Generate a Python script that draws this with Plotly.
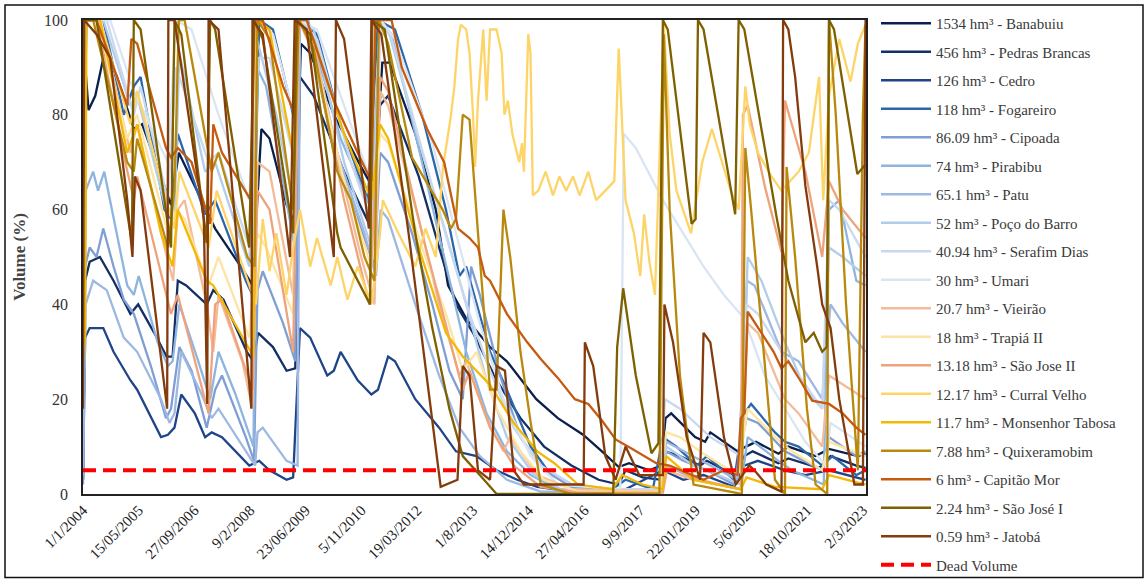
import plotly.graph_objects as go

# ---------------- axis ticks ----------------
TICK_DATES = ["2004-01-01", "2005-05-15", "2006-09-27", "2008-02-09", "2009-06-23",
              "2010-11-05", "2012-03-19", "2013-08-01", "2014-12-14", "2016-04-27",
              "2017-09-09", "2019-01-22", "2020-06-05", "2021-10-18", "2023-03-02"]
TICK_TEXT = ["1/1/2004", "15/05/2005", "27/09/2006", "9/2/2008", "23/06/2009",
             "5/11/2010", "19/03/2012", "1/8/2013", "14/12/2014", "27/04/2016",
             "9/9/2017", "22/01/2019", "5/6/2020", "18/10/2021", "2/3/2023"]
Y_TICKS = [0, 20, 40, 60, 80, 100]

# ---------------- reservoir volumes (%) ----------------
BANABUIU = [("2004-01-05", 80), ("2004-01-25", 89), ("2004-02-20", 81), ("2004-04-20", 84),
            ("2004-07-20", 94), ("2004-11-01", 88), ("2005-04-01", 77), ("2005-06-15", 78),
            ("2005-12-01", 67), ("2006-03-01", 61), ("2006-05-10", 72), ("2006-12-01", 62),
            ("2007-04-01", 56), ("2007-12-15", 47), ("2008-03-01", 44), ("2008-05-20", 77),
            ("2008-08-01", 75), ("2009-01-01", 61), ("2009-03-20", 57), ("2009-05-10", 95),
            ("2009-08-01", 93), ("2010-03-01", 80), ("2010-11-01", 69), ("2011-03-01", 64),
            ("2011-05-10", 91), ("2011-07-15", 91), ("2012-03-01", 76), ("2012-09-01", 60),
            ("2012-12-20", 44), ("2013-06-01", 37), ("2014-01-01", 31), ("2014-06-01", 28),
            ("2015-02-20", 20), ("2015-09-01", 16), ("2016-04-15", 12.5), ("2016-10-01", 9),
            ("2017-03-01", 5.7), ("2017-06-01", 6.5), ("2017-12-01", 5), ("2018-03-15", 6),
            ("2018-04-25", 16), ("2018-06-15", 17), ("2019-01-15", 12), ("2019-04-15", 11),
            ("2019-06-01", 13), ("2020-02-01", 9), ("2020-04-15", 10), ("2020-07-15", 11),
            ("2021-02-01", 8.5), ("2021-05-01", 10), ("2022-01-01", 8), ("2022-05-01", 9.5),
            ("2023-01-15", 8), ("2023-03-25", 8.5)]

PEDRAS_BRANCAS = [("2004-01-01", 3), ("2004-01-20", 45), ("2004-03-01", 49), ("2004-06-01", 50),
                  ("2004-10-01", 45), ("2005-03-01", 38), ("2005-05-10", 40), ("2005-10-01", 34),
                  ("2006-01-20", 29), ("2006-03-15", 29), ("2006-05-01", 45), ("2006-07-15", 44),
                  ("2007-01-15", 40), ("2007-03-15", 43), ("2007-06-15", 41), ("2008-01-10", 30),
                  ("2008-03-10", 28), ("2008-04-20", 34), ("2008-09-01", 31), ("2009-01-01", 26),
                  ("2009-03-20", 26.5), ("2009-05-01", 88), ("2009-09-01", 84), ("2010-06-01", 68),
                  ("2011-02-01", 56), ("2011-04-20", 82), ("2011-07-01", 84), ("2012-04-01", 67),
                  ("2012-10-01", 52), ("2013-03-01", 40), ("2013-08-01", 34), ("2014-03-01", 24),
                  ("2014-10-01", 16), ("2015-05-01", 10), ("2016-01-01", 6), ("2016-09-01", 3),
                  ("2017-03-01", 2), ("2017-05-01", 5), ("2017-10-01", 3.5), ("2018-03-15", 3),
                  ("2018-04-20", 9), ("2018-09-01", 8), ("2019-03-01", 6), ("2019-05-01", 7),
                  ("2020-01-01", 4), ("2020-04-01", 8), ("2020-06-15", 9), ("2021-02-01", 6.5),
                  ("2021-05-01", 7.5), ("2022-02-01", 5.5), ("2022-05-15", 8), ("2023-01-01", 6),
                  ("2023-03-25", 5.5)]

CEDRO = [("2004-01-01", 3), ("2004-01-20", 33), ("2004-03-01", 35), ("2004-07-01", 35),
         ("2004-10-01", 30), ("2005-03-01", 24), ("2005-05-01", 22), ("2005-10-01", 15),
         ("2005-12-01", 12), ("2006-02-01", 12.5), ("2006-04-01", 14), ("2006-06-01", 21),
         ("2006-10-01", 17), ("2007-01-01", 12), ("2007-03-01", 13), ("2007-06-01", 12),
         ("2008-02-01", 6), ("2008-05-01", 7), ("2008-08-01", 5), ("2009-01-01", 3),
         ("2009-03-01", 3.5), ("2009-05-01", 35), ("2009-08-01", 33), ("2010-01-01", 25),
         ("2010-03-01", 26), ("2010-05-01", 30), ("2010-10-01", 24), ("2011-02-01", 21),
         ("2011-04-01", 22), ("2011-07-01", 29), ("2011-09-01", 28), ("2012-03-01", 20),
         ("2012-10-01", 14), ("2013-03-01", 9), ("2013-09-01", 8), ("2014-03-01", 5),
         ("2014-09-01", 3), ("2015-03-01", 1.5), ("2016-01-01", 0.5), ("2017-01-01", 0.3),
         ("2017-05-01", 1), ("2018-04-01", 5), ("2018-10-01", 3), ("2019-04-01", 4),
         ("2020-01-01", 1.5), ("2020-04-01", 6), ("2020-08-01", 7), ("2021-04-01", 5),
         ("2021-10-01", 4), ("2022-05-01", 5), ("2023-03-25", 3)]

FOGAREIRO = [("2004-01-01", 60), ("2004-02-01", 100), ("2004-07-01", 100), ("2005-01-01", 80),
             ("2005-04-01", 86), ("2005-06-01", 88), ("2006-01-01", 60), ("2006-03-01", 58),
             ("2006-05-01", 76), ("2007-01-01", 59), ("2007-04-01", 62), ("2008-01-01", 45),
             ("2008-03-01", 42), ("2008-05-01", 100), ("2008-09-01", 98), ("2009-03-01", 80),
             ("2009-05-01", 100), ("2009-10-01", 97), ("2010-05-01", 78), ("2011-01-01", 62),
             ("2011-04-01", 100), ("2011-09-01", 98), ("2012-05-01", 80), ("2012-12-01", 60),
             ("2013-04-01", 46), ("2013-06-01", 48), ("2014-01-01", 30), ("2014-06-01", 22),
             ("2015-01-01", 10), ("2015-06-01", 5), ("2016-01-01", 2), ("2017-01-01", 1),
             ("2017-05-01", 3), ("2018-01-01", 1), ("2018-04-01", 12), ("2018-08-01", 10),
             ("2019-02-01", 6), ("2019-05-01", 8), ("2020-01-01", 3), ("2020-04-01", 17),
             ("2020-06-01", 19), ("2021-01-01", 13), ("2021-04-01", 11), ("2021-08-01", 10),
             ("2022-03-01", 6), ("2022-06-01", 8), ("2023-01-01", 4), ("2023-03-25", 5)]

CIPOADA = [("2004-01-01", 2), ("2004-01-20", 48), ("2004-03-01", 52), ("2004-05-01", 50),
           ("2004-07-01", 56), ("2004-10-01", 48), ("2005-01-01", 41), ("2005-04-01", 38),
           ("2005-09-01", 27), ("2006-01-15", 16), ("2006-03-01", 18), ("2006-05-15", 31),
           ("2006-09-01", 26), ("2007-01-15", 14), ("2007-04-01", 22), ("2007-06-01", 25),
           ("2008-01-01", 12), ("2008-03-15", 7), ("2008-04-15", 43), ("2008-06-01", 47),
           ("2008-12-01", 36), ("2009-03-20", 28), ("2009-05-01", 100), ("2009-07-01", 100),
           ("2010-03-01", 72), ("2010-10-01", 58), ("2011-03-01", 48), ("2011-04-20", 72),
           ("2011-07-01", 70), ("2012-02-01", 55), ("2012-08-01", 40), ("2013-01-01", 26),
           ("2013-05-01", 20), ("2013-07-15", 48), ("2013-10-01", 42), ("2014-04-01", 25),
           ("2014-10-01", 12), ("2015-05-01", 5), ("2016-01-01", 1.5), ("2017-01-01", 0.5),
           ("2018-03-01", 0.5), ("2018-05-01", 9), ("2018-10-01", 7), ("2019-05-01", 5),
           ("2020-01-01", 2), ("2020-04-20", 16), ("2020-08-01", 15), ("2021-04-01", 9),
           ("2022-03-01", 5), ("2022-05-01", 12), ("2023-01-01", 8), ("2023-03-25", 9)]

PIRABIBU = [("2004-01-01", 5), ("2004-01-25", 64), ("2004-04-01", 68), ("2004-05-15", 64),
            ("2004-07-10", 68), ("2004-11-01", 55), ("2005-02-01", 44), ("2005-04-01", 42),
            ("2005-05-15", 46), ("2005-11-01", 32), ("2006-02-01", 27), ("2006-03-15", 28),
            ("2006-05-15", 40), ("2006-11-01", 28), ("2007-02-15", 20), ("2007-05-01", 30),
            ("2007-10-01", 21), ("2008-03-10", 10), ("2008-04-10", 90), ("2008-07-01", 86),
            ("2009-03-15", 52), ("2009-04-25", 100), ("2009-08-01", 98), ("2010-05-01", 75),
            ("2011-02-01", 60), ("2011-04-20", 100), ("2011-08-01", 97), ("2012-05-01", 70),
            ("2012-12-01", 48), ("2013-06-01", 30), ("2013-12-01", 17), ("2014-06-01", 9),
            ("2015-01-01", 4), ("2015-09-01", 1), ("2017-01-01", 0.5), ("2018-03-01", 0.5),
            ("2018-05-01", 6), ("2019-02-01", 3), ("2020-03-01", 1), ("2020-05-01", 12),
            ("2021-02-01", 7), ("2021-06-01", 5), ("2022-03-15", 2), ("2022-05-01", 60),
            ("2022-08-01", 62), ("2023-01-01", 45), ("2023-03-25", 44)]

PATU = [("2004-01-01", 4), ("2004-01-25", 40), ("2004-04-01", 45), ("2004-08-01", 43),
        ("2005-01-01", 33), ("2005-05-01", 30), ("2005-12-01", 20), ("2006-02-15", 15),
        ("2006-04-01", 17), ("2006-06-01", 30), ("2006-12-01", 21), ("2007-03-01", 16),
        ("2007-05-01", 18), ("2008-01-01", 9), ("2008-03-25", 6), ("2008-04-15", 13),
        ("2008-06-01", 14), ("2009-01-01", 7), ("2009-04-10", 6), ("2009-05-01", 100),
        ("2009-07-15", 100), ("2010-04-01", 72), ("2010-12-01", 55), ("2011-03-15", 46),
        ("2011-04-25", 60), ("2011-07-01", 58), ("2012-03-01", 40), ("2012-10-01", 25),
        ("2013-04-01", 14), ("2013-10-01", 8), ("2014-06-01", 3), ("2015-04-01", 0.5),
        ("2018-03-15", 0.5), ("2018-05-01", 11), ("2018-10-01", 9), ("2019-06-01", 6),
        ("2020-02-01", 3), ("2020-04-25", 45), ("2020-07-01", 44), ("2021-03-01", 30),
        ("2021-08-01", 28), ("2022-03-01", 20), ("2022-05-15", 40), ("2022-09-01", 36),
        ("2023-03-25", 30)]

POCO_DO_BARRO = [("2004-01-01", 100), ("2004-07-01", 100), ("2005-03-01", 82), ("2005-05-01", 84),
                 ("2006-01-15", 60), ("2006-04-01", 58), ("2006-05-15", 93), ("2007-01-01", 68),
                 ("2007-04-01", 70), ("2008-02-01", 48), ("2008-04-10", 96), ("2008-10-01", 80),
                 ("2009-03-15", 60), ("2009-04-20", 100), ("2009-09-01", 98), ("2010-06-01", 70),
                 ("2011-02-01", 52), ("2011-04-20", 100), ("2011-07-01", 98), ("2012-05-01", 72),
                 ("2012-12-01", 55), ("2013-06-01", 40), ("2013-12-01", 24), ("2014-06-01", 12),
                 ("2015-02-01", 4), ("2015-10-01", 1), ("2017-02-01", 0.5), ("2018-03-20", 0.5),
                 ("2018-05-01", 10), ("2019-01-01", 6), ("2019-05-01", 5), ("2020-03-01", 2),
                 ("2020-05-01", 50), ("2020-09-01", 45), ("2021-04-01", 32), ("2021-10-01", 22),
                 ("2022-03-01", 18), ("2022-05-01", 52), ("2022-09-01", 50), ("2023-03-25", 46)]

SERAFIM_DIAS = [("2004-01-01", 100), ("2004-08-01", 100), ("2005-04-01", 80), ("2005-06-01", 86),
                ("2006-02-01", 62), ("2006-04-15", 90), ("2007-02-01", 70), ("2007-05-01", 72),
                ("2008-03-01", 50), ("2008-04-20", 92), ("2008-08-01", 92), ("2009-03-15", 70),
                ("2009-04-25", 100), ("2009-10-01", 96), ("2010-08-01", 70), ("2011-03-01", 56),
                ("2011-04-25", 100), ("2011-08-01", 96), ("2012-06-01", 70), ("2013-01-01", 52),
                ("2013-07-01", 38), ("2014-01-01", 26), ("2014-08-01", 14), ("2015-04-01", 6),
                ("2016-01-01", 2), ("2017-01-01", 1), ("2018-03-01", 1), ("2018-04-20", 20),
                ("2018-09-01", 18), ("2019-06-01", 12), ("2020-03-01", 8), ("2020-04-20", 40),
                ("2020-08-01", 38), ("2021-03-01", 30), ("2021-09-01", 24), ("2022-03-01", 18),
                ("2022-05-01", 62), ("2022-08-01", 60), ("2023-03-25", 50)]

UMARI = [("2004-01-01", 100), ("2004-09-01", 100), ("2005-04-01", 85), ("2006-02-01", 70),
         ("2006-04-15", 100), ("2006-09-01", 98), ("2007-05-01", 80), ("2008-02-01", 62),
         ("2008-04-15", 100), ("2008-09-01", 97), ("2009-04-01", 78), ("2009-04-25", 100),
         ("2009-10-01", 98), ("2010-09-01", 76), ("2011-03-01", 64), ("2011-04-25", 100),
         ("2011-09-01", 96), ("2012-08-01", 74), ("2013-03-01", 55), ("2013-10-01", 36),
         ("2014-05-01", 20), ("2015-01-01", 8), ("2015-09-01", 2), ("2017-01-01", 1),
         ("2017-03-15", 1), ("2017-04-15", 76), ("2017-08-01", 73), ("2018-04-01", 62),
         ("2018-10-01", 55), ("2019-04-01", 48), ("2019-10-01", 42), ("2020-04-01", 37),
         ("2020-10-01", 25), ("2021-04-01", 18), ("2021-10-01", 11), ("2022-04-01", 6),
         ("2022-05-15", 15), ("2023-03-25", 10)]

VIEIRAO = [("2004-01-01", 100), ("2004-06-01", 100), ("2005-03-01", 72), ("2005-05-01", 78),
           ("2006-01-01", 52), ("2006-03-20", 45), ("2006-05-01", 60), ("2006-07-01", 62),
           ("2007-01-15", 40), ("2007-03-15", 30), ("2007-05-01", 42), ("2007-12-01", 28),
           ("2008-03-01", 18), ("2008-04-15", 70), ("2008-08-01", 68), ("2009-03-01", 42),
           ("2009-04-20", 100), ("2009-09-01", 95), ("2010-05-01", 68), ("2010-11-01", 50),
           ("2011-03-01", 40), ("2011-04-20", 85), ("2011-07-01", 82), ("2012-04-01", 58),
           ("2012-10-01", 40), ("2013-04-01", 25), ("2013-06-01", 28), ("2013-12-01", 16),
           ("2014-05-01", 9), ("2014-07-01", 12), ("2015-03-01", 4), ("2016-01-01", 1),
           ("2018-03-01", 0.5), ("2018-05-01", 5), ("2019-01-01", 3), ("2020-03-01", 1),
           ("2020-05-01", 36), ("2020-08-01", 34), ("2021-04-01", 20), ("2021-08-01", 17),
           ("2022-03-01", 10), ("2022-05-01", 25), ("2023-03-25", 20)]

TRAPIA_II = [("2004-01-01", 100), ("2004-05-01", 100), ("2005-02-01", 75), ("2005-05-01", 80),
             ("2006-02-01", 55), ("2006-04-15", 60), ("2006-07-01", 58), ("2007-02-01", 44),
             ("2007-05-01", 50), ("2008-02-01", 33), ("2008-04-15", 55), ("2008-07-01", 52),
             ("2009-03-01", 38), ("2009-04-20", 100), ("2009-08-01", 96), ("2010-06-01", 66),
             ("2011-02-01", 48), ("2011-04-20", 76), ("2011-07-01", 74), ("2012-05-01", 52),
             ("2012-12-01", 38), ("2013-05-01", 26), ("2013-09-01", 30), ("2014-03-01", 18),
             ("2014-10-01", 9), ("2015-05-01", 3), ("2016-03-01", 0.5), ("2018-03-01", 0.5),
             ("2018-05-01", 13), ("2018-09-01", 12), ("2019-05-01", 8), ("2020-02-01", 4),
             ("2020-05-01", 18), ("2021-01-01", 12), ("2021-06-01", 9), ("2022-03-01", 5),
             ("2022-05-01", 11), ("2023-03-25", 8)]

SAO_JOSE_II = [("2004-01-01", 100), ("2004-05-01", 100), ("2005-01-15", 70), ("2005-04-01", 62),
               ("2005-05-01", 67), ("2006-01-01", 44), ("2006-03-01", 38), ("2006-05-01", 42),
               ("2007-02-01", 17), ("2007-04-01", 40), ("2007-06-01", 41), ("2008-03-01", 22),
               ("2008-04-15", 64), ("2008-08-01", 60), ("2009-03-01", 30), ("2009-04-20", 100),
               ("2009-09-01", 93), ("2010-06-01", 62), ("2011-01-15", 40), ("2011-04-20", 88),
               ("2011-07-01", 85), ("2012-05-01", 55), ("2012-12-01", 36), ("2013-05-01", 22),
               ("2013-07-01", 26), ("2014-01-01", 14), ("2014-08-01", 6), ("2015-04-01", 1.5),
               ("2016-03-01", 0.3), ("2018-04-01", 0.3), ("2018-05-15", 6), ("2019-03-01", 3),
               ("2020-03-01", 1), ("2020-03-20", 80), ("2020-05-01", 82), ("2020-10-01", 65),
               ("2021-03-01", 51), ("2021-04-01", 83), ("2021-06-01", 78), ("2021-10-01", 68),
               ("2022-03-01", 50), ("2022-05-01", 66), ("2022-09-01", 60), ("2023-03-25", 54)]

CURRAL_VELHO = [("2004-01-01", 100), ("2004-06-01", 100), ("2005-03-01", 78), ("2005-05-01", 85),
                ("2006-01-15", 62), ("2006-04-01", 56), ("2006-05-15", 68), ("2007-02-01", 52),
                ("2007-04-15", 64), ("2008-01-01", 46), ("2008-04-01", 40), ("2008-06-01", 58),
                ("2008-08-01", 47), ("2008-10-01", 55), ("2009-01-01", 42), ("2009-03-01", 52),
                ("2009-05-01", 60), ("2009-08-01", 48), ("2009-10-01", 54), ("2010-02-01", 44),
                ("2010-04-01", 50), ("2010-07-01", 41), ("2010-10-01", 48), ("2011-02-01", 40),
                ("2011-04-20", 55), ("2011-05-15", 62), ("2011-10-01", 55), ("2012-03-01", 48),
                ("2012-06-01", 56), ("2012-09-01", 50), ("2012-11-05", 69), ("2013-01-10", 79),
                ("2013-02-15", 86), ("2013-03-20", 96), ("2013-04-15", 99), ("2013-06-01", 98),
                ("2013-07-01", 93), ("2013-08-01", 80), ("2013-08-20", 69), ("2013-09-15", 83),
                ("2013-10-15", 94), ("2013-11-01", 98), ("2013-12-01", 83), ("2014-01-01", 98),
                ("2014-03-01", 98), ("2014-04-15", 93), ("2014-05-10", 80), ("2014-06-10", 83),
                ("2014-07-20", 76), ("2014-09-20", 70), ("2014-10-15", 74), ("2014-11-01", 68),
                ("2014-12-10", 97), ("2014-12-30", 93), ("2015-01-20", 63), ("2015-03-10", 64),
                ("2015-05-15", 68), ("2015-07-20", 63), ("2015-09-15", 67), ("2015-11-15", 64),
                ("2016-01-15", 67), ("2016-03-15", 63), ("2016-06-01", 68), ("2016-08-10", 62),
                ("2016-11-01", 64), ("2017-01-20", 66), ("2017-03-01", 94), ("2017-04-01", 76),
                ("2017-05-01", 62), ("2017-07-15", 55), ("2017-09-10", 46), ("2017-10-15", 59),
                ("2017-12-01", 49), ("2018-01-20", 42), ("2018-04-10", 99), ("2018-06-01", 76),
                ("2018-08-01", 64), ("2018-12-10", 55), ("2019-03-20", 70), ("2019-06-15", 77),
                ("2019-09-01", 71), ("2019-12-01", 64), ("2020-02-10", 60), ("2020-04-10", 86),
                ("2020-05-20", 78), ("2020-08-01", 72), ("2020-12-01", 67), ("2021-03-01", 64),
                ("2021-08-01", 68), ("2021-11-01", 72), ("2022-02-01", 88), ("2022-03-10", 62),
                ("2022-05-01", 84), ("2022-08-01", 96), ("2022-11-10", 87), ("2023-01-15", 95),
                ("2023-03-25", 99)]

MONSENHOR_TABOSA = [("2004-01-01", 28), ("2004-01-20", 34), ("2004-02-01", 100), ("2004-06-01", 100),
                    ("2005-02-01", 72), ("2005-05-01", 78), ("2005-12-01", 55), ("2006-03-15", 48),
                    ("2006-05-01", 60), ("2007-01-15", 45), ("2007-03-15", 44), ("2008-03-10", 29),
                    ("2008-04-10", 100), ("2008-08-01", 98), ("2009-03-15", 70), ("2009-04-15", 100),
                    ("2009-09-01", 96), ("2010-06-01", 76), ("2011-02-01", 62), ("2011-04-20", 78),
                    ("2011-07-01", 75), ("2012-04-01", 52), ("2012-12-01", 34), ("2013-05-01", 29),
                    ("2014-01-01", 23), ("2014-08-01", 15), ("2015-03-01", 9), ("2015-08-01", 6.5),
                    ("2016-03-01", 2), ("2017-01-01", 1), ("2017-04-01", 4), ("2017-10-01", 2),
                    ("2018-04-01", 1), ("2018-05-01", 8), ("2019-01-01", 3), ("2020-03-01", 1),
                    ("2020-04-20", 3.5), ("2021-01-01", 1.5), ("2022-03-01", 1), ("2022-05-01", 4),
                    ("2023-03-25", 2)]

QUIXERAMOBIM = [("2004-01-01", 100), ("2004-04-01", 100), ("2005-02-01", 70), ("2005-04-01", 68),
                ("2005-05-01", 75), ("2006-02-01", 52), ("2006-04-01", 64), ("2006-05-10", 100),
                ("2006-07-01", 100), ("2007-03-01", 68), ("2007-05-01", 72), ("2008-01-15", 50),
                ("2008-03-20", 48), ("2008-04-15", 100), ("2008-08-01", 96), ("2009-03-01", 60),
                ("2009-04-20", 100), ("2009-09-01", 94), ("2010-04-01", 68), ("2010-08-01", 62),
                ("2010-12-01", 50), ("2011-03-01", 45), ("2011-04-10", 100), ("2011-07-01", 95),
                ("2012-02-01", 71), ("2012-07-01", 65), ("2012-11-01", 60), ("2013-01-15", 56),
                ("2013-03-01", 58), ("2013-05-01", 80), ("2013-07-01", 79), ("2013-10-01", 50),
                ("2014-01-01", 22), ("2014-03-01", 22), ("2014-05-01", 60), ("2014-07-01", 50),
                ("2014-10-01", 30), ("2015-01-01", 15), ("2015-04-01", 2), ("2016-01-01", 0),
                ("2018-03-01", 0), ("2018-04-10", 97), ("2018-06-01", 60), ("2018-09-01", 25),
                ("2019-01-01", 2), ("2020-03-10", 0), ("2020-04-10", 73), ("2020-06-01", 60),
                ("2020-09-01", 35), ("2021-01-01", 3), ("2021-04-01", 0), ("2021-04-15", 69),
                ("2021-07-01", 50), ("2021-10-15", 18), ("2022-01-01", 2), ("2022-04-15", 0),
                ("2022-05-01", 100), ("2022-07-01", 80), ("2022-10-01", 40), ("2023-01-15", 5),
                ("2023-03-01", 80), ("2023-03-25", 99)]

CAPITAO_MOR = [("2004-01-01", 100), ("2004-05-01", 100), ("2005-02-01", 82), ("2005-03-10", 96),
               ("2005-05-01", 95), ("2006-01-15", 73), ("2006-03-01", 71), ("2006-05-01", 73),
               ("2006-09-01", 70), ("2007-02-15", 57), ("2007-03-15", 78), ("2007-06-01", 72),
               ("2008-02-15", 62), ("2008-03-20", 100), ("2008-06-01", 100), ("2008-12-01", 86),
               ("2009-03-01", 81), ("2009-04-10", 100), ("2009-07-01", 100), ("2010-03-01", 83),
               ("2010-10-01", 72), ("2011-02-01", 66), ("2011-03-10", 100), ("2011-08-01", 100),
               ("2011-11-01", 90), ("2012-03-01", 83), ("2012-06-15", 77), ("2012-11-15", 70),
               ("2013-03-20", 56), ("2013-07-01", 54), ("2013-09-15", 52), ("2013-11-15", 46),
               ("2014-01-01", 45), ("2014-06-01", 38), ("2014-12-01", 32), ("2015-04-01", 28.5),
               ("2015-09-01", 24.5), ("2016-02-01", 20), ("2016-06-01", 19), ("2016-10-01", 15.5),
               ("2017-02-01", 11.5), ("2017-07-01", 9.5), ("2018-02-01", 6.5), ("2018-06-01", 6),
               ("2019-04-01", 3), ("2019-10-01", 5), ("2020-02-01", 4), ("2020-03-01", 16),
               ("2020-04-01", 17), ("2020-05-01", 38.5), ("2020-09-01", 34), ("2020-12-20", 30),
               ("2021-03-01", 26.5), ("2021-05-01", 28), ("2021-08-15", 24), ("2021-12-01", 19.7),
               ("2022-05-01", 19), ("2022-09-01", 17), ("2023-01-01", 14), ("2023-03-25", 12.5)]

SAO_JOSE_I = [("2004-01-01", 100), ("2004-05-01", 100), ("2005-03-15", 53), ("2005-04-01", 100),
              ("2005-06-01", 98), ("2006-03-01", 52), ("2006-04-01", 100), ("2006-06-01", 97),
              ("2007-01-15", 53), ("2007-02-15", 100), ("2007-04-01", 98), ("2008-02-01", 52),
              ("2008-03-15", 100), ("2008-06-01", 96), ("2009-03-01", 55), ("2009-04-01", 100),
              ("2009-08-01", 97), ("2010-04-01", 55), ("2010-05-01", 52), ("2011-01-20", 40),
              ("2011-02-10", 100), ("2011-06-01", 98), ("2012-03-01", 55), ("2012-08-01", 35),
              ("2013-01-01", 18), ("2013-05-01", 8), ("2013-10-01", 4), ("2014-03-01", 0),
              ("2017-01-10", 0), ("2017-02-15", 31), ("2017-04-10", 43.4), ("2017-08-01", 25),
              ("2017-12-20", 8.6), ("2018-02-20", 10.7), ("2018-04-01", 100), ("2018-05-15", 98),
              ("2018-12-15", 57), ("2019-01-20", 58), ("2019-02-10", 100), ("2019-04-01", 98),
              ("2020-01-10", 59), ("2020-02-10", 100), ("2020-04-01", 98), ("2021-01-15", 58.5),
              ("2021-05-01", 45), ("2021-10-01", 32), ("2021-12-15", 34), ("2022-03-01", 30),
              ("2022-04-10", 31), ("2022-05-01", 100), ("2022-06-15", 98), ("2023-01-10", 67.5),
              ("2023-03-25", 69.5)]

JATOBA = [("2004-01-01", 18), ("2004-01-10", 100), ("2004-05-01", 97), ("2004-09-01", 92),
          ("2005-02-01", 62), ("2005-03-20", 50), ("2005-04-10", 67), ("2005-06-01", 64),
          ("2006-01-25", 18), ("2006-02-05", 100), ("2006-04-01", 100), ("2006-12-20", 58),
          ("2007-01-20", 19), ("2007-02-01", 100), ("2007-05-01", 98), ("2008-02-20", 18),
          ("2008-03-01", 100), ("2008-06-01", 97), ("2009-02-01", 50), ("2009-03-15", 100),
          ("2009-07-01", 98), ("2010-03-01", 50), ("2010-03-20", 100), ("2010-06-01", 96),
          ("2011-01-10", 56), ("2011-02-01", 100), ("2011-05-01", 97), ("2012-01-01", 55),
          ("2012-10-15", 1.5), ("2013-03-15", 3), ("2013-05-01", 27), ("2013-07-01", 25),
          ("2013-09-15", 5), ("2014-01-01", 3), ("2014-03-01", 27), ("2014-05-15", 26),
          ("2014-08-01", 5), ("2014-11-01", 2), ("2015-05-01", 2), ("2016-04-20", 2),
          ("2016-05-01", 32), ("2016-07-15", 27), ("2016-11-01", 8), ("2017-02-01", 3),
          ("2017-05-01", 10), ("2017-09-01", 4), ("2017-12-01", 4), ("2018-04-01", 4),
          ("2018-04-15", 40), ("2018-07-01", 32), ("2018-11-01", 12), ("2019-03-01", 3),
          ("2019-04-01", 34), ("2019-06-01", 32), ("2019-10-01", 12), ("2020-01-15", 2),
          ("2020-05-15", 6), ("2020-07-01", 5), ("2020-10-15", 2), ("2021-03-01", 0.5),
          ("2021-03-15", 100), ("2021-05-01", 98), ("2021-07-01", 88), ("2021-10-01", 65),
          ("2022-01-15", 48), ("2022-03-01", 40), ("2022-05-15", 35), ("2022-08-01", 20),
          ("2022-12-15", 2), ("2023-03-01", 2), ("2023-03-25", 100)]

SERIES = [
    ("1534 hm³ - Banabuiu", BANABUIU, "#0b1f4b"),
    ("456 hm³ - Pedras Brancas", PEDRAS_BRANCAS, "#142f63"),
    ("126 hm³ - Cedro", CEDRO, "#1f4588"),
    ("118 hm³ - Fogareiro", FOGAREIRO, "#2d67ab"),
    ("86.09 hm³ - Cipoada", CIPOADA, "#7f9fd4"),
    ("74 hm³ - Pirabibu", PIRABIBU, "#8db5df"),
    ("65.1 hm³ - Patu", PATU, "#9db8e2"),
    ("52 hm³ - Poço do Barro", POCO_DO_BARRO, "#b0cdec"),
    ("40.94 hm³ - Serafim Dias", SERAFIM_DIAS, "#c9d8ed"),
    ("30 hm³ - Umari", UMARI, "#d9e5f3"),
    ("20.7 hm³ - Vieirão", VIEIRAO, "#f2bc9a"),
    ("18 hm³ - Trapiá II", TRAPIA_II, "#fee4a3"),
    ("13.18 hm³ - São Jose II", SAO_JOSE_II, "#eea37c"),
    ("12.17 hm³ - Curral Velho", CURRAL_VELHO, "#fdd468"),
    ("11.7 hm³ - Monsenhor Tabosa", MONSENHOR_TABOSA, "#f3b806"),
    ("7.88 hm³ - Quixeramobim", QUIXERAMOBIM, "#b8890c"),
    ("6 hm³ - Capitão Mor", CAPITAO_MOR, "#c55a11"),
    ("2.24 hm³ - São José I", SAO_JOSE_I, "#7f6000"),
    ("0.59 hm³ - Jatobá", JATOBA, "#843c0c"),
]

DEAD_VOLUME_DATES = ["2004-01-01", "2023-03-29"]
DEAD_VOLUME = [5, 5]

SERIF = "Liberation Serif"

fig = go.Figure()
for i, (name, pts, color) in enumerate(SERIES):
    fig.add_trace(go.Scatter(
        x=[p[0] for p in pts], y=[p[1] for p in pts],
        mode="lines", name=name, legendgroup=f"g{i}",
        line=dict(color=color, width=2.3),
    ))

fig.add_trace(go.Scatter(
    x=DEAD_VOLUME_DATES, y=DEAD_VOLUME, mode="lines", name="Dead Volume",
    legendgroup="dead", line=dict(color="#ff0000", width=4, dash="13px,7px"),
))

# plot area: left 83, right 866, top 17, bottom 494 (px)
L, R, T, B = 83, 280, 17, 87
W, H = 1146, 581
pw, ph = W - L - R, H - T - B

fig.update_layout(
    width=W, height=H,
    margin=dict(l=L, r=R, t=T, b=B),
    paper_bgcolor="white", plot_bgcolor="white",
    font=dict(family=SERIF, size=15, color="#333333"),
    showlegend=True,
    legend=dict(
        x=(876 - L) / pw, y=(H - B - 16) / ph, xanchor="left", yanchor="top",
        font=dict(family=SERIF, size=15, color="#3a3a3a"),
        tracegroupgap=6, itemwidth=50, maxheight=1.0,
        bgcolor="rgba(0,0,0,0)",
    ),
    xaxis=dict(
        type="date",
        range=["2004-01-01", "2023-03-29"],
        tickvals=TICK_DATES, ticktext=TICK_TEXT, tickangle=-45,
        tickfont=dict(family=SERIF, size=15, color="#222222"),
        showgrid=False, zeroline=False,
        showline=True, linecolor="#222222", linewidth=1.5, mirror=True,
        ticks="",
    ),
    yaxis=dict(
        range=[0, 100], tickvals=Y_TICKS,
        tickfont=dict(family=SERIF, size=16, color="#333333"),
        ticklabelstandoff=10,
        title=dict(text="<b>Volume (%)</b>", font=dict(family=SERIF, size=17, color="#444444"),
                   standoff=14),
        showgrid=False, zeroline=False,
        showline=True, linecolor="#222222", linewidth=1.5, mirror=True,
        ticks="",
    ),
    shapes=[dict(
        type="rect", xref="paper", yref="paper",
        x0=(5 - L) / pw, x1=(1143 - L) / pw,
        y0=(H - B - 578) / ph, y1=(H - B - 2) / ph,
        line=dict(color="#111111", width=1.5), fillcolor="rgba(0,0,0,0)", layer="below",
    )],
)

fig.write_html("out.html")
